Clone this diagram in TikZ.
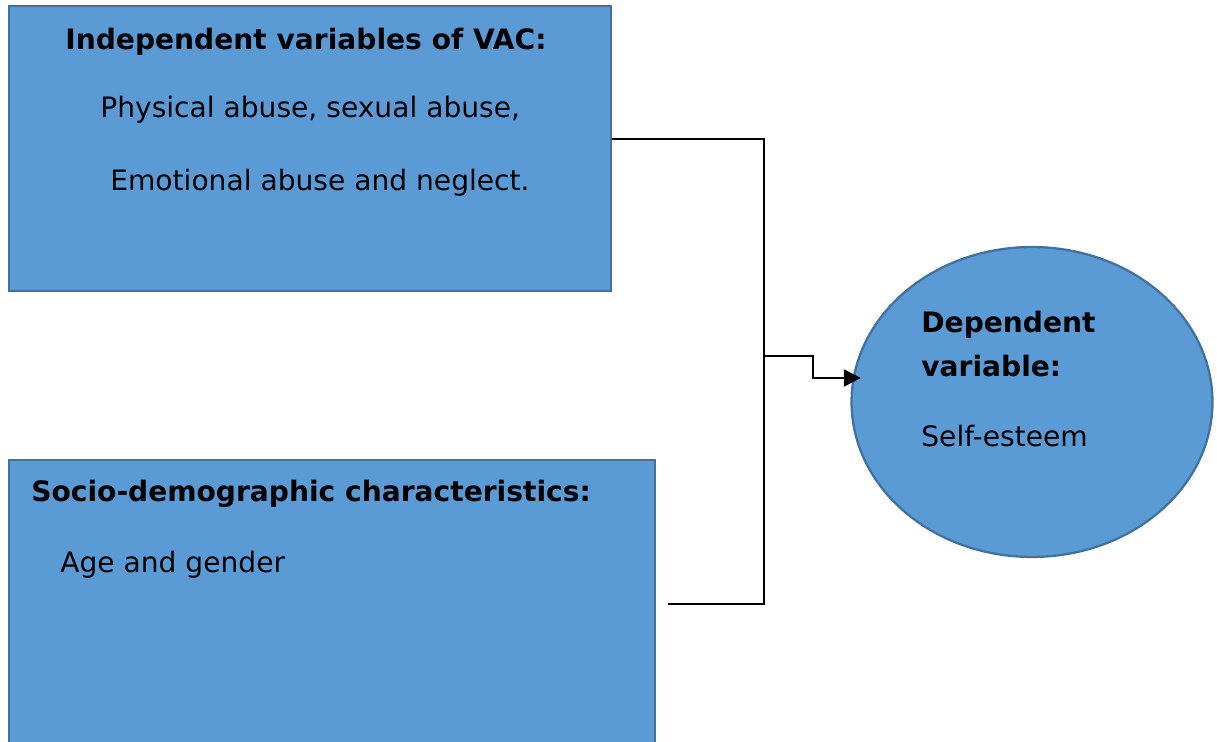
\documentclass[tikz,border=0pt]{standalone}
\usepackage{fontspec}
\setmainfont{DejaVu Sans}
\usetikzlibrary{shapes.geometric,arrows.meta}
\definecolor{BoxFill}{RGB}{91,155,213}
\definecolor{BoxEdge}{RGB}{65,113,156}
\tikzset{
	varbox/.style={draw=BoxEdge,fill=BoxFill,line width=1.3pt,inner sep=0pt},
	vartext/.style={anchor=base west,inner sep=0pt,font=\fontsize{16}{19}\selectfont},
	varhead/.style={vartext,font=\fontsize{16}{19}\selectfont\bfseries},
	link/.style={line width=1.4pt}
}
\begin{document}
\begin{tikzpicture}[x=0.02cm,y=-0.02cm]
	\useasboundingbox (0,0) rectangle (1217,742);
	\clip (0,0) rectangle (1217,742); % Clips the bottom box...

		\node[varbox,rectangle,anchor=north west,minimum width=12.04cm,minimum height=5.7cm] (VacBox) at (8,5) {};
		\node[varbox,rectangle,anchor=north west,minimum width=12.92cm,minimum height=6.2cm] (DemoBox) at (8,459) {};
		\node[varbox,ellipse,minimum width=7.22cm,minimum height=6.2cm] (SelfEsteem) at (1032,402) {};

		\node[varhead] (VacHead) at (65,50) {Independent variables of VAC:};
		\node[vartext] (VacLineA) at (100,118) {Physical abuse, sexual abuse,};
		\node[vartext] (VacLineB) at (110,191) {Emotional abuse and neglect.};
		\node[varhead] (DemoHead) at (31,502) {Socio-demographic characteristics:};
		\node[vartext] (DemoLine) at (60,573) {Age and gender};
		\node[varhead] (DepHeadA) at (921,333) {Dependent};
		\node[varhead] (DepHeadB) at (921,377) {variable:};
		\node[vartext] (DepLine) at (921,447) {Self-esteem};

		\coordinate (Junction) at (764,356);
		\coordinate (Step)     at (813,378);
		\coordinate (DemoEnd)  at (668,604);
		\path (VacBox.north east) ++(0,134) coordinate (VacOut);

		\draw[link] (VacOut) -- (VacOut -| Junction) -- (Junction |- DemoEnd) -- (DemoEnd);% Bracket
		\draw[link,-{Triangle[length=3.4mm,width=3.4mm]},shorten >=-0.16cm] (Junction) -| (Step) -- (Step -| SelfEsteem.172);% Arrow
\end{tikzpicture}
\end{document}
